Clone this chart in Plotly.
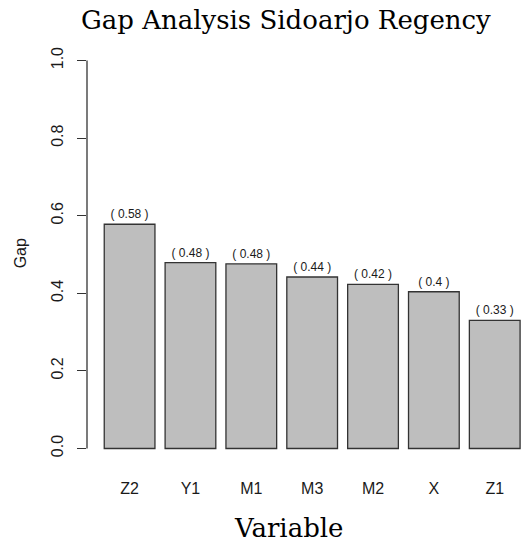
import plotly.graph_objects as go

variables = ["Z2", "Y1", "M1", "M3", "M2", "X", "Z1"]
gap = [0.578, 0.479, 0.476, 0.442, 0.423, 0.404, 0.330]
gap_labels = ["( 0.58 )", "( 0.48 )", "( 0.48 )", "( 0.44 )", "( 0.42 )", "( 0.4 )", "( 0.33 )"]
y_ticks = [0.0, 0.2, 0.4, 0.6, 0.8, 1.0]

sans = "Liberation Sans, Arial, sans-serif"
serif = "DejaVu Serif, Liberation Serif, serif"

plot_w = 444
plot_h = 419.3

fig = go.Figure()
fig.add_trace(go.Bar(
    x=variables, y=gap,
    text=gap_labels, textposition="outside", cliponaxis=False,
    textfont=dict(family=sans, size=12, color="#1a1a1a"),
    marker=dict(color="#bebebe", line=dict(color="#333333", width=1.3)),
))

# y axis line only between 0 and 1, as in R's axis()
fig.add_shape(type="line", xref="paper", yref="y", x0=0, x1=0, y0=0, y1=1,
              line=dict(color="#333333", width=1.3))

fig.update_layout(
    width=531, height=550,
    margin=dict(l=87, r=0, t=44.5, b=550 - 44.5 - plot_h),
    plot_bgcolor="white", paper_bgcolor="white",
    showlegend=False,
    bargap=0.1667,
    xaxis=dict(range=[-0.7, 6.596], showline=False, showgrid=False, zeroline=False,
               ticks="", tickfont=dict(family=sans, size=16, color="#1a1a1a"),
               ticklabelstandoff=13),
    yaxis=dict(range=[-0.04, 1.04], tickvals=y_ticks, tickformat=".1f",
               showline=False, showgrid=False, zeroline=False,
               ticks="outside", ticklen=9, tickwidth=1.3, tickcolor="#333333",
               tickangle=-90, ticklabelstandoff=8,
               tickfont=dict(family=sans, size=16, color="#1a1a1a")),
    annotations=[
        dict(text="Gap Analysis Sidoarjo Regency", xref="paper", yref="paper",
             x=(286 - 87) / plot_w, y=1 + (44.5 - 19) / plot_h, showarrow=False,
             xanchor="center", yanchor="middle",
             font=dict(family=serif, size=26, color="black")),
        dict(text="Variable", xref="paper", yref="paper",
             x=(288 - 87) / plot_w, y=-(528 - 463.8) / plot_h, showarrow=False,
             xanchor="center", yanchor="middle",
             font=dict(family=serif, size=26, color="black")),
        dict(text="Gap", xref="paper", yref="paper", textangle=-90,
             x=-(87 - 20) / plot_w, y=(463.8 - 253) / plot_h, showarrow=False,
             xanchor="center", yanchor="middle",
             font=dict(family=sans, size=16, color="#1a1a1a")),
    ],
)

# drop the default page margin so the figure sits at the window corner
fig.write_html("out.html", config={"displayModeBar": False},
               post_script="document.body.style.margin='0';")
